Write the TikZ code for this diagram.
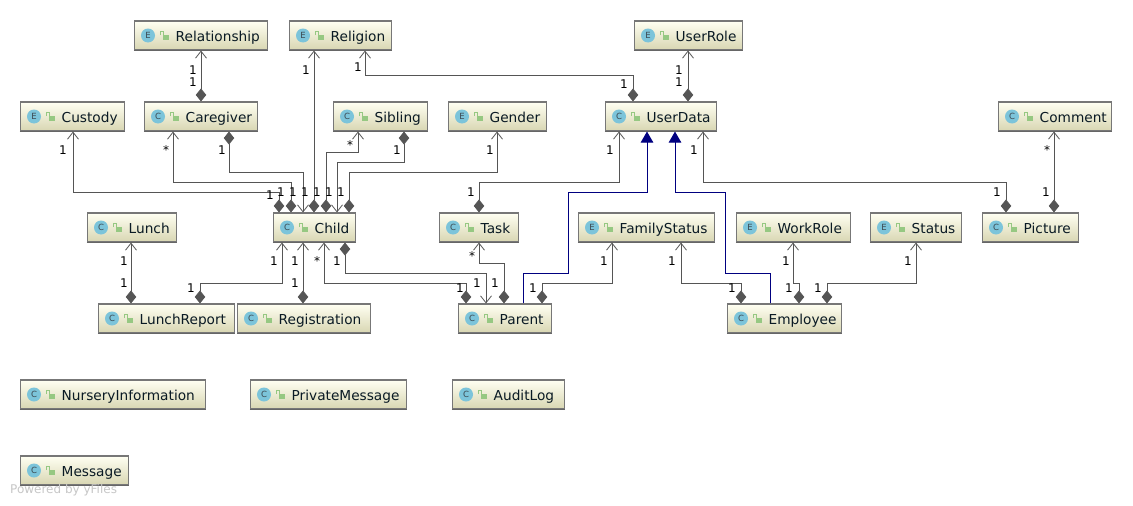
\documentclass[tikz,border=0pt]{standalone}
\usepackage{fontspec}
\setmainfont{DejaVu Sans}
\usetikzlibrary{arrows.meta}
\definecolor{linegray}{HTML}{555555}
\definecolor{boxedge}{HTML}{777777}
\definecolor{boxtop}{HTML}{FFFFF2}
\definecolor{boxbot}{HTML}{D8D6B2}
\definecolor{iconblue}{HTML}{7CC4DA}
\definecolor{lockgreen}{HTML}{96C882}
\definecolor{inhblue}{HTML}{000080}
\definecolor{txt}{HTML}{0A1A24}
\newcounter{labn}
\tikzset{
  umlbox/.style={draw=boxedge,line width=1.1pt,top color=boxtop,bottom color=boxbot,inner sep=0pt},
  umltext/.style={font=\fontsize{13.7}{16}\selectfont,text=txt,anchor=base west,inner sep=0pt},
  iconc/.style={circle,fill=iconblue,minimum size=14pt,inner sep=0pt,font=\fontsize{8.5}{9}\selectfont,text=txt!80},
  lbl/.style={font=\fontsize{12}{12}\selectfont,text=black,inner sep=0pt},
  line/.style={draw=linegray,line width=0.9pt},
  assoc/.style={line,{Straight Barb[length=7pt,width=11pt,line width=0.8pt]}-{Diamond[length=13pt,width=10.5pt,fill=linegray]}},
  assocrev/.style={line,{Diamond[length=13pt,width=10.5pt,fill=linegray]}-{Straight Barb[length=7pt,width=11pt,line width=0.8pt]}},
  inherit/.style={draw=inhblue,line width=0.9pt,-{Triangle[length=11pt,width=12.5pt,fill=inhblue]}}
}
% name, x1, y1, x2, y2, letter, text
\newcommand{\umlcls}[7]{%
  \node[umlbox,minimum width=#4pt-#2pt,minimum height=#5pt-#3pt] (#1) at ({(#2+#4)/2+0.5},{(#3+#5)/2}) {};
  \draw[linegray!90,line width=1.1pt] (#1.south west) -- (#1.south east);
  \node[iconc] (#1i) at (#2+14,{(#3+#5)/2}) {#6};
  \draw[lockgreen,line width=0.9pt] (#2+26.5,{(#3+#5)/2-0.5}) -- (#2+26.5,{(#3+#5)/2-4.5}) -- (#2+29.5,{(#3+#5)/2-4.5}) -- (#2+29.5,{(#3+#5)/2-0.5});
  \fill[lockgreen] (#2+29,{(#3+#5)/2-1}) rectangle ++(5.5,5);
  \node[umltext] (#1t) at (#2+41.5,{(#3+#5)/2+5.5}) {#7};
}
\newcommand{\lab}[3]{\stepcounter{labn}\node[lbl] (lab\thelabn) at (#1,#2) {#3};}
\begin{document}
\begin{tikzpicture}[x=1pt,y=-1pt]
\useasboundingbox[fill=white] (0,0) rectangle (1133,506);
\umlcls{relationship}{134}{21}{267}{50}{E}{Relationship}
\umlcls{religion}{289}{21}{391}{50}{E}{Religion}
\umlcls{userrole}{634}{21}{742}{50}{E}{UserRole}
\umlcls{custody}{20}{102}{124}{131}{E}{Custody}
\umlcls{caregiver}{144}{102}{257}{131}{C}{Caregiver}
\umlcls{sibling}{333}{102}{427}{131}{C}{Sibling}
\umlcls{gender}{448}{102}{546}{131}{E}{Gender}
\umlcls{userdata}{605}{102}{716}{131}{C}{UserData}
\umlcls{comment}{998}{102}{1111}{131}{C}{Comment}
\umlcls{lunch}{87}{213}{176}{242}{C}{Lunch}
\umlcls{child}{273}{213}{355}{242}{C}{Child}
\umlcls{task}{439}{213}{518}{242}{C}{Task}
\umlcls{familystatus}{578}{213}{714}{242}{E}{FamilyStatus}
\umlcls{workrole}{736}{213}{850}{242}{E}{WorkRole}
\umlcls{status}{870}{213}{961}{242}{E}{Status}
\umlcls{picture}{982}{213}{1078}{242}{C}{Picture}
\umlcls{lunchreport}{98}{304}{234}{333}{C}{LunchReport}
\umlcls{registration}{237}{304}{370}{333}{C}{Registration}
\umlcls{parent}{458}{304}{551}{333}{C}{Parent}
\umlcls{employee}{727}{304}{841}{333}{C}{Employee}
\umlcls{nursery}{20}{380}{205}{409}{C}{NurseryInformation}
\umlcls{private}{250}{380}{406}{409}{C}{PrivateMessage}
\umlcls{audit}{452}{380}{564}{409}{C}{AuditLog}
\umlcls{message}{20}{456}{128}{485}{C}{Message}
% associations: open end first, diamond last
\draw[assoc] (relationship.south -| 201,0) -- (caregiver.north -| 201,0);
\draw[assoc] (custody.south -| 73,0) -- (73,192) -- (279,192) -- (child.north -| 279,0);
\draw[assoc] (caregiver.south -| 173,0) -- (173,182) -- (291,182) -- (child.north -| 291,0);
\draw[assocrev] (caregiver.south -| 229,0) -- (229,172) -- (303,172) -- (child.north -| 303,0);
\draw[assoc] (religion.south -| 314,0) -- (child.north -| 314,0);
\draw[assoc] (sibling.south -| 358,0) -- (358,152) -- (326,152) -- (child.north -| 326,0);
\draw[assocrev] (sibling.south -| 404,0) -- (404,162) -- (337,162) -- (child.north -| 337,0);
\draw[assoc] (gender.south -| 497,0) -- (497,172) -- (349,172) -- (child.north -| 349,0);
\draw[assoc] (religion.south -| 365,0) -- (365,75) -- (633,75) -- (userdata.north -| 633,0);
\draw[assoc] (userrole.south -| 688,0) -- (userdata.north -| 688,0);
\draw[assoc] (userdata.south -| 619,0) -- (619,182) -- (479,182) -- (task.north -| 479,0);
\draw[assoc] (userdata.south -| 703,0) -- (703,182) -- (1006,182) -- (picture.north -| 1006,0);
\draw[assoc] (comment.south -| 1054,0) -- (picture.north -| 1054,0);
\draw[assoc] (lunch.south -| 131,0) -- (lunchreport.north -| 131,0);
\draw[assoc] (child.south -| 282,0) -- (282,283) -- (200,283) -- (lunchreport.north -| 200,0);
\draw[assoc] (child.south -| 303,0) -- (registration.north -| 303,0);
\draw[assoc] (child.south -| 324,0) -- (324,283) -- (466,283) -- (parent.north -| 466,0);
\draw[assocrev] (child.south -| 345,0) -- (345,273) -- (486,273) -- (parent.north -| 486,0);
\draw[assoc] (task.south -| 479,0) -- (479,263) -- (504,263) -- (parent.north -| 504,0);
\draw[assoc] (familystatus.south -| 612,0) -- (612,283) -- (542,283) -- (parent.north -| 542,0);
\draw[assoc] (familystatus.south -| 681,0) -- (681,283) -- (741,283) -- (employee.north -| 741,0);
\draw[assoc] (workrole.south -| 793,0) -- (793,283) -- (799,283) -- (employee.north -| 799,0);
\draw[assoc] (status.south -| 916,0) -- (916,283) -- (827,283) -- (employee.north -| 827,0);
% inheritance
\draw[inherit] (parent.north -| 523,0) -- (523,273) -- (568,273) -- (568,192) -- (647,192) -- (userdata.south -| 647,0);
\draw[inherit] (employee.north -| 770,0) -- (770,273) -- (725,273) -- (725,192) -- (675,192) -- (userdata.south -| 675,0);
% multiplicities
\lab{193}{70}{1}\lab{193}{82}{1}
\lab{63}{150}{1}\lab{270}{195}{1}
\lab{166}{150}{*}\lab{281}{192}{1}
\lab{222}{150}{1}\lab{293}{192}{1}
\lab{306}{70}{1}\lab{305}{192}{1}
\lab{350}{145}{*}\lab{317}{192}{1}
\lab{397}{150}{1}\lab{329}{192}{1}
\lab{490}{150}{1}\lab{341}{192}{1}
\lab{358}{67}{1}\lab{624}{84}{1}
\lab{679}{70}{1}\lab{679}{82}{1}
\lab{610}{150}{1}\lab{471}{192}{1}
\lab{694}{150}{1}\lab{997}{192}{1}
\lab{1047}{150}{*}\lab{1046}{192}{1}
\lab{124}{261}{1}\lab{124}{283}{1}
\lab{274}{261}{1}\lab{191}{288}{1}
\lab{295}{261}{1}\lab{295}{283}{1}
\lab{317}{261}{*}\lab{460}{288}{1}
\lab{337}{261}{1}\lab{477}{283}{1}
\lab{472}{256}{*}\lab{495}{283}{1}
\lab{604}{261}{1}\lab{533}{288}{1}
\lab{672}{261}{1}\lab{732}{288}{1}
\lab{786}{261}{1}\lab{789}{288}{1}
\lab{908}{261}{1}\lab{818}{288}{1}
\node[font=\fontsize{12}{12}\selectfont,text=black!22,anchor=west,inner sep=0pt] (powered) at (10,490) {Powered by yFiles};
\end{tikzpicture}
\end{document}
